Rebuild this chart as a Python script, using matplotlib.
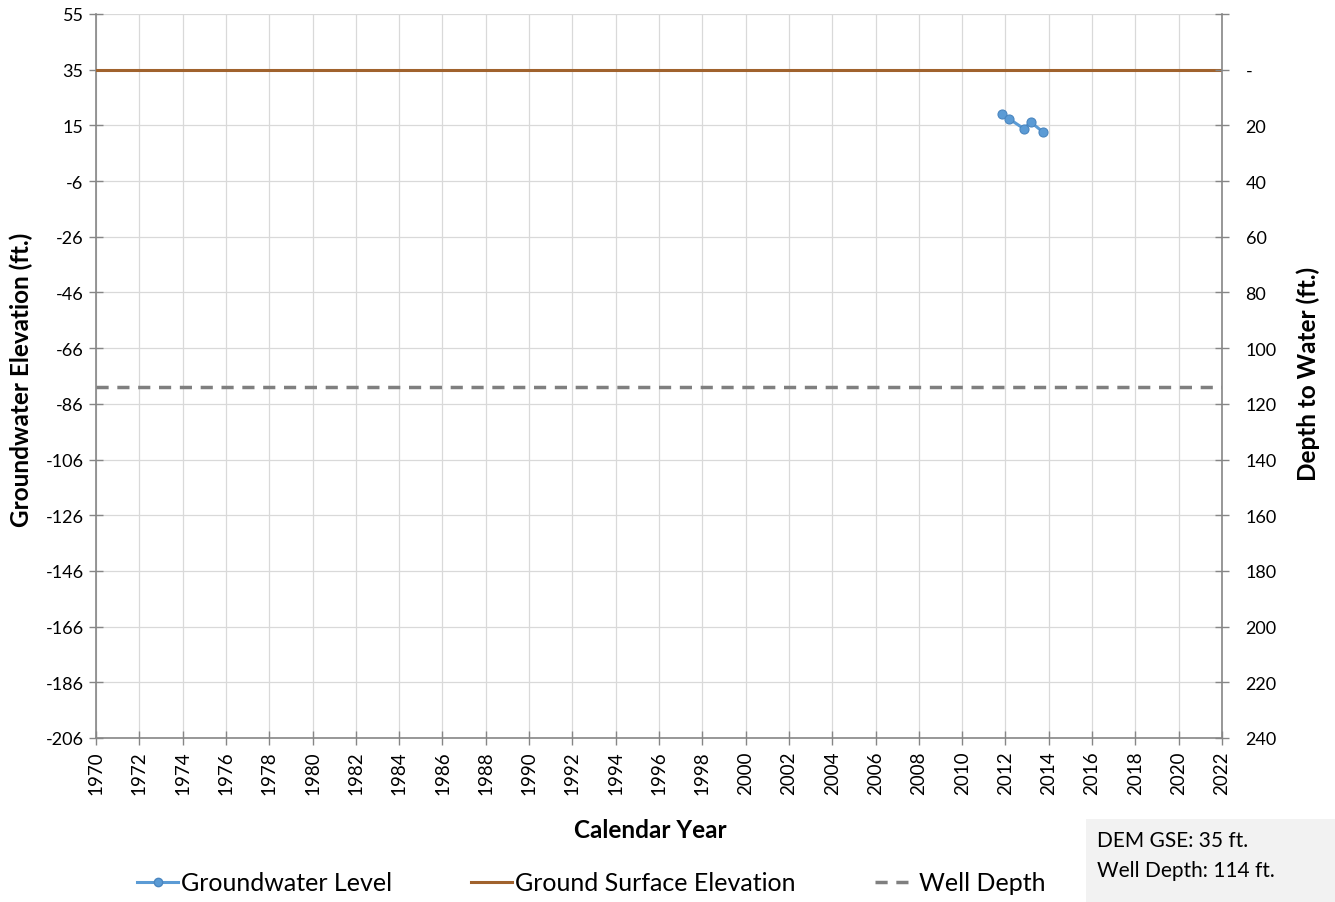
import matplotlib
matplotlib.use("Agg")
import matplotlib.pyplot as plt
from matplotlib.lines import Line2D
import numpy as np

plt.rcParams['font.family'] = ['Lato', 'DejaVu Sans']

# Data
gw_years = [2011.85, 2012.18, 2012.85, 2013.17, 2013.75]
gw_elev = [18.6, 16.8, 13.3, 15.7, 12.0]
gse = 34.5
well_depth = 114
x_ticks = list(range(1970, 2023, 2))
depth_ticks = list(range(-20, 241, 20))

def fmt_elev(v):
    return str(int(np.sign(v) * np.floor(abs(v) + 0.5)))

fig = plt.figure(figsize=(13.35, 9.03), dpi=100)
ax = fig.add_axes([96/1335, 1 - 739/903, (1222-96)/1335, (739-15)/903])

ax.axhline(gse, color='#a0622d', lw=2.2, zorder=3)
ax.axhline(gse - well_depth, color='#7f7f7f', lw=2.5, ls=(0, (3.5, 2.5)), zorder=3)
ax.plot(gw_years, gw_elev, color='#5b9bd5', lw=2.2, marker='o', ms=6.5,
        mfc='#5b9bd5', mec='#4a86c0', mew=0.8, zorder=4)

ax.set_xlim(1970, 2022)
ax.set_ylim(gse - 240, gse + 20)
elev_ticks = [gse - d for d in depth_ticks]
ax.set_yticks(elev_ticks)
ax.set_yticklabels([fmt_elev(v) for v in elev_ticks], fontsize=13)
ax.set_xticks(x_ticks)
ax.set_xticklabels([str(y) for y in x_ticks], rotation=90, fontsize=13.5)
ax.grid(True, color='#d9d9d9', lw=0.9)
ax.set_axisbelow(True)
for s in ['top', 'right']:
    ax.spines[s].set_visible(False)
for s in ['left', 'bottom']:
    ax.spines[s].set_color('#868686')
    ax.spines[s].set_linewidth(1.2)
ax.tick_params(axis='both', which='major', direction='inout', length=10,
               color='#868686', width=1.0, pad=4)

ax2 = ax.twinx()
ax2.set_ylim(-20, 240)
ax2.invert_yaxis()
ax2.set_yticks(depth_ticks)
ax2.set_yticklabels(['' if d < 0 else ('-' if d == 0 else str(d)) for d in depth_ticks], fontsize=13)
for s in ['top', 'left', 'bottom']:
    ax2.spines[s].set_visible(False)
ax2.spines['right'].set_color('#868686')
ax2.spines['right'].set_linewidth(1.2)
ax2.tick_params(axis='y', direction='inout', length=10, color='#868686', width=1.0, pad=12)

fig.text(21/1335, 1 - 380/903, 'Groundwater Elevation (ft.)', rotation=90, ha='center', va='center',
         fontsize=17.5, fontweight='bold')
fig.text(1308/1335, 1 - 374/903, 'Depth to Water (ft.)', rotation=90, ha='center', va='center',
         fontsize=17.5, fontweight='bold')
fig.text(650/1335, 1 - 831/903, 'Calendar Year', ha='center', va='center',
         fontsize=17.5, fontweight='bold')

handles = [
    Line2D([], [], color='#5b9bd5', lw=2.2, marker='o', ms=6, mfc='#5b9bd5', mec='#4a86c0'),
    Line2D([], [], color='#a0622d', lw=2.2),
    Line2D([], [], color='#7f7f7f', lw=2.5, ls=(0, (3.5, 2.5))),
]
labels = ['Groundwater Level', 'Ground Surface Elevation', 'Well Depth']
fig.legend(handles, labels, loc='center left', bbox_to_anchor=(137/1335, 1 - 884/903), ncol=3,
           frameon=False, fontsize=18, handlelength=1.65, handletextpad=0.12,
           columnspacing=3.15, borderpad=0, borderaxespad=0)

fig.patches.append(matplotlib.patches.Rectangle((1086/1335, 0), (1335-1086)/1335, (903-820)/903,
                   transform=fig.transFigure, facecolor='#f2f2f2', edgecolor='none', zorder=0))
fig.text(1097/1335, 1 - 841/903, 'DEM GSE: 35 ft.', ha='left', va='center', fontsize=15)
fig.text(1097/1335, 1 - 871/903, 'Well Depth: 114 ft.', ha='left', va='center', fontsize=15)

fig.savefig('out.png', dpi=100)
